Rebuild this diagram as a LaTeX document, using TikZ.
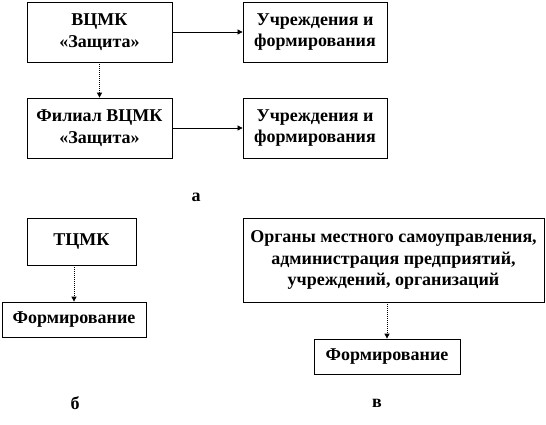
\documentclass[tikz,border=0pt]{standalone}
\usepackage{fontspec}
\setmainfont{Liberation Serif}
\usetikzlibrary{arrows.meta}
\begin{document}
\begin{tikzpicture}[x=1pt,y=-1pt,
  box/.style={draw=black,line width=0.8pt,inner sep=0pt,align=center,
    font=\bfseries\fontsize{18}{21.5}\selectfont},
  lbl/.style={font=\bfseries\fontsize{18}{21.5}\selectfont,inner sep=0pt},
  solidarrow/.style={-{Triangle[length=5pt,width=5pt]},line width=0.7pt},
  dotarrow/.style={-{Triangle[length=5pt,width=5pt]},line width=1pt,densely dotted}]
\useasboundingbox (0,0) rectangle (546,425);
\node[box,minimum width=145pt,minimum height=60pt] (vcmk) at (99.5,32) {ВЦМК\\«Защита»};
\node[box,minimum width=145pt,minimum height=60pt] (fil) at (99.5,128) {Филиал ВЦМК\\«Защита»};
\node[box,minimum width=144pt,minimum height=60pt] (u1) at (315,32) {Учреждения и\\формирования};
\node[box,minimum width=144pt,minimum height=60pt] (u2) at (315,128) {Учреждения и\\формирования};
\node[lbl] (a) at (196,197) {а};
\node[box,minimum width=109pt,minimum height=47pt] (tcmk) at (81.5,241.5) {ТЦМК};
\node[box,minimum width=144pt,minimum height=35pt] (f1) at (74,319.5) {Формирование};
\node[box,minimum width=301pt,minimum height=84pt] (org) at (393.5,260) {Органы местного самоуправления,\\администрация предприятий,\\учреждений, организаций};
\node[box,minimum width=146pt,minimum height=35pt] (f2) at (387,356.5) {Формирование};
\node[lbl] (b) at (75,403) {б};
\node[lbl] (v) at (377,403) {в};
\draw[solidarrow] (vcmk.east) -- (u1.west);
\draw[solidarrow] (fil.east) -- (u2.west);
\draw[dotarrow] (vcmk.south) -- (fil.north);
\draw[dotarrow] (tcmk.south -| f1.north) -- (f1.north);
\draw[dotarrow] (org.south -| f2.north) -- (f2.north);
\end{tikzpicture}
\end{document}
